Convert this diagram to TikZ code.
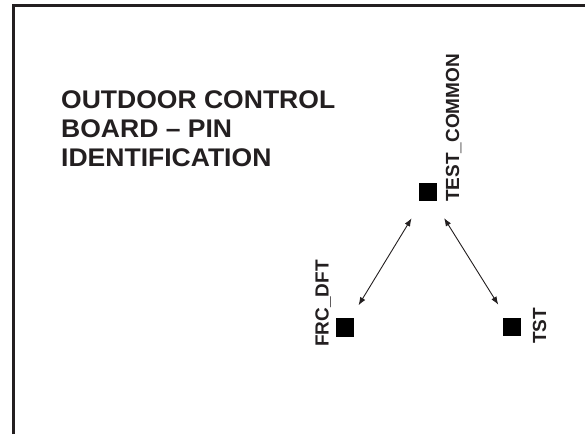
\documentclass[tikz,border=0pt]{standalone}
\usepackage{fontspec}
\setmainfont{Liberation Sans}
\usetikzlibrary{arrows.meta}
\definecolor{ink}{HTML}{231F20}
\tikzset{
  pin/.style={draw=none, fill=black, minimum size=18.3pt, inner sep=0pt, outer sep=0pt},
  titletext/.style={inner sep=0pt, anchor=base west, text=ink, font=\fontsize{25.5}{29}\selectfont\bfseries},
  pinlabel/.style={inner sep=0pt, anchor=base west, rotate=90, text=ink, font=\fontsize{19}{22}\selectfont\bfseries},
  link/.style={{Latex[length=8pt,width=6pt]}-{Latex[length=8pt,width=6pt]}, line width=0.9pt, draw=ink},
  frame/.style={line width=2.6pt, draw=ink}
}
\begin{document}
\begin{tikzpicture}[x=1pt,y=1pt]
\useasboundingbox (0,0) rectangle (585,434);
% frame (top and left edges)
\coordinate (fbl) at (13.3,0);
\coordinate (ftl) at (13.3,428.6);
\coordinate (ftr) at (585,428.6);
\draw[frame] (fbl) -- (ftl) -- (ftr);
% title
\node[titletext] (t1) at (61,325.7) {\scalebox{1.04}[1]{OUTDOOR CONTROL}};
\node[titletext] (t2) at (61,296.3) {\scalebox{1.04}[1]{BOARD – PIN}};
\node[titletext] (t3) at (61,267.3) {\scalebox{1.04}[1]{IDENTIFICATION}};
% pins
\node[pin] (tc) at (427.7,242.2) {};
\node[pin] (frc) at (345,106.5) {};
\node[pin] (tst) at (512,107.3) {};
% labels
\node[pinlabel] (ltc) at (459,232) {TEST\_COMMON};
\node[pinlabel] (lfrc) at (328.5,87) {FRC\_DFT};
\node[pinlabel] (ltst) at (546,90) {TST};
% connectors
\draw[link, shorten <=31pt, shorten >=26pt] (tc.center) -- (frc.center);
\draw[link, shorten <=31pt, shorten >=26pt] (tc.center) -- (tst.center);
\end{tikzpicture}
\end{document}
